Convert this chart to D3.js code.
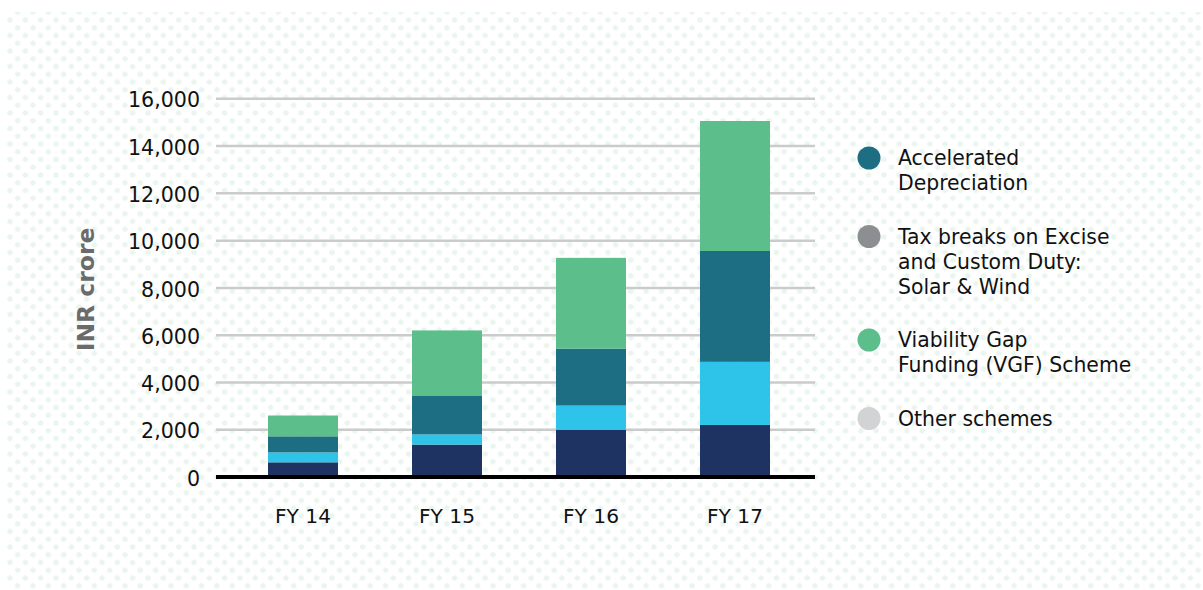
<!DOCTYPE html>
<html>
<head>
<meta charset="utf-8">
<script src="https://cdn.jsdelivr.net/npm/d3@7"></script>
<style>
	html, body { margin: 0; padding: 0; background: #ffffff; }
	svg { display: block; font-family: "DejaVu Sans", "Open Sans", sans-serif; }
</style>
</head>
<body>
<div id="container"></div>
<script>
// 1. Data
const years = ["FY 14", "FY 15", "FY 16", "FY 17"]
const seriesKeys = ["segBase", "segSecond", "accelDep", "vgf"]
const segBase = [600, 1350, 1980, 2180]
const segSecond = [420, 430, 1020, 2670]
const accelDep = [680, 1650, 2410, 4690]
const vgf = [880, 2750, 3840, 5500]
const yTicks = [0, 2000, 4000, 6000, 8000, 10000, 12000, 14000, 16000]
const legendLabels = [
	["Accelerated", "Depreciation"],
	["Tax breaks on Excise", "and Custom Duty:", "Solar & Wind"],
	["Viability Gap", "Funding (VGF) Scheme"],
	["Other schemes"],
]

const rows = years.map((year, i) => ({
	year,
	segBase: segBase[i],
	segSecond: segSecond[i],
	accelDep: accelDep[i],
	vgf: vgf[i],
}))

// 2. Dimensions
const width = 1203
const height = 590
const plot = { left: 216, right: 815, top: 98.3, bottom: 476.5 }

const barColors = {
	segBase: "#1f3363",
	segSecond: "#2ec4ea",
	accelDep: "#1e6e83",
	vgf: "#5bbe8b",
}
const legendColors = ["#1e6e83", "#8c8f91", "#5bbe8b", "#d2d3d4"]

// 3. Canvas
const svg = d3.select("#container")
	.append("svg")
	.attr("width", width)
	.attr("height", height)

// dotted background
const defs = svg.append("defs")
const dotW = 15.33
const dotH = 15.5
const pattern = defs.append("pattern")
	.attr("id", "dots")
	.attr("patternUnits", "userSpaceOnUse")
	.attr("x", 10)
	.attr("y", 20)
	.attr("width", dotW)
	.attr("height", dotH)
;[[0, 0], [dotW, 0], [0, dotH], [dotW, dotH], [dotW / 2, dotH / 2]].forEach(([cx, cy]) => {
	pattern.append("circle")
		.attr("cx", cx)
		.attr("cy", cy)
		.attr("r", 2.7)
		.attr("fill", "#e9f5ee")
})

svg.append("rect")
	.attr("x", 7)
	.attr("y", 12)
	.attr("width", width - 7)
	.attr("height", height - 12)
	.attr("fill", "url(#dots)")

// 4. Scales
const x = d3.scaleBand()
	.domain(years)
	.range([231, 807])
	.paddingInner(0.514)
	.paddingOuter(0.257)

const y = d3.scaleLinear()
	.domain([0, 16000])
	.range([plot.bottom, plot.top])

// 5. Grid + y labels
const yAxis = d3.axisLeft(y)
	.tickValues(yTicks)
	.tickSize(-(plot.right - plot.left))
	.tickPadding(16)
	.tickFormat(d3.format(","))

const yAxisGroup = svg.append("g")
	.attr("transform", `translate(${plot.left},0)`)
	.call(yAxis)

yAxisGroup.select(".domain").remove()
yAxisGroup.selectAll(".tick line")
	.attr("stroke", "#cbcbcb")
	.attr("stroke-width", 2.5)
yAxisGroup.selectAll(".tick text")
	.attr("fill", "#111")
	.attr("font-family", "DejaVu Sans")
	.attr("font-size", 20.6)
	.attr("dy", "0.42em")

// 6. Bars
const stacked = d3.stack().keys(seriesKeys)(rows)

svg.append("g")
	.selectAll("g")
	.data(stacked)
	.join("g")
	.attr("fill", d => barColors[d.key])
	.selectAll("rect")
	.data(d => d)
	.join("rect")
	.attr("x", d => x(d.data.year))
	.attr("width", x.bandwidth())
	.attr("y", d => y(d[1]))
	.attr("height", d => y(d[0]) - y(d[1]) + (d[0] === 0 ? 2.5 : 0))

// baseline
svg.append("line")
	.attr("x1", plot.left)
	.attr("x2", plot.right)
	.attr("y1", y(0) + 0.5)
	.attr("y2", y(0) + 0.5)
	.attr("stroke", "#000")
	.attr("stroke-width", 4)

// 7. x labels
const xAxis = d3.axisBottom(x).tickSize(0).tickPadding(0)
const xAxisGroup = svg.append("g")
	.attr("transform", `translate(0,${y(0)})`)
	.call(xAxis)
xAxisGroup.select(".domain").remove()
xAxisGroup.selectAll(".tick text")
	.attr("fill", "#111")
	.attr("font-family", "DejaVu Sans")
	.attr("font-size", 20.2)
	.attr("dy", "2.28em")

// y title
svg.append("text")
	.attr("transform", `translate(94,${(plot.top + plot.bottom) / 2 + 2}) rotate(-90)`)
	.attr("text-anchor", "middle")
	.attr("font-size", 23.5)
	.attr("font-weight", 700)
	.attr("fill", "#6b6b6b")
	.text("INR crore")

// 8. Legend
const legend = svg.append("g")
	.attr("transform", "translate(869,0)")

let baseline = 165
legendLabels.forEach((lines, i) => {
	const item = legend.append("g")
	item.append("circle")
		.attr("cx", 0)
		.attr("cy", baseline - 7)
		.attr("r", 11.5)
		.attr("fill", legendColors[i])
	item.append("text")
		.attr("x", 29)
		.attr("y", baseline)
		.attr("font-size", 20.4)
		.attr("fill", "#111")
		.selectAll("tspan")
		.data(lines)
		.join("tspan")
		.attr("x", 29)
		.attr("dy", (d, j) => j === 0 ? 0 : 25)
		.text(d => d)
	baseline += lines.length * 25 + 28.5
})
</script>
</body>
</html>
